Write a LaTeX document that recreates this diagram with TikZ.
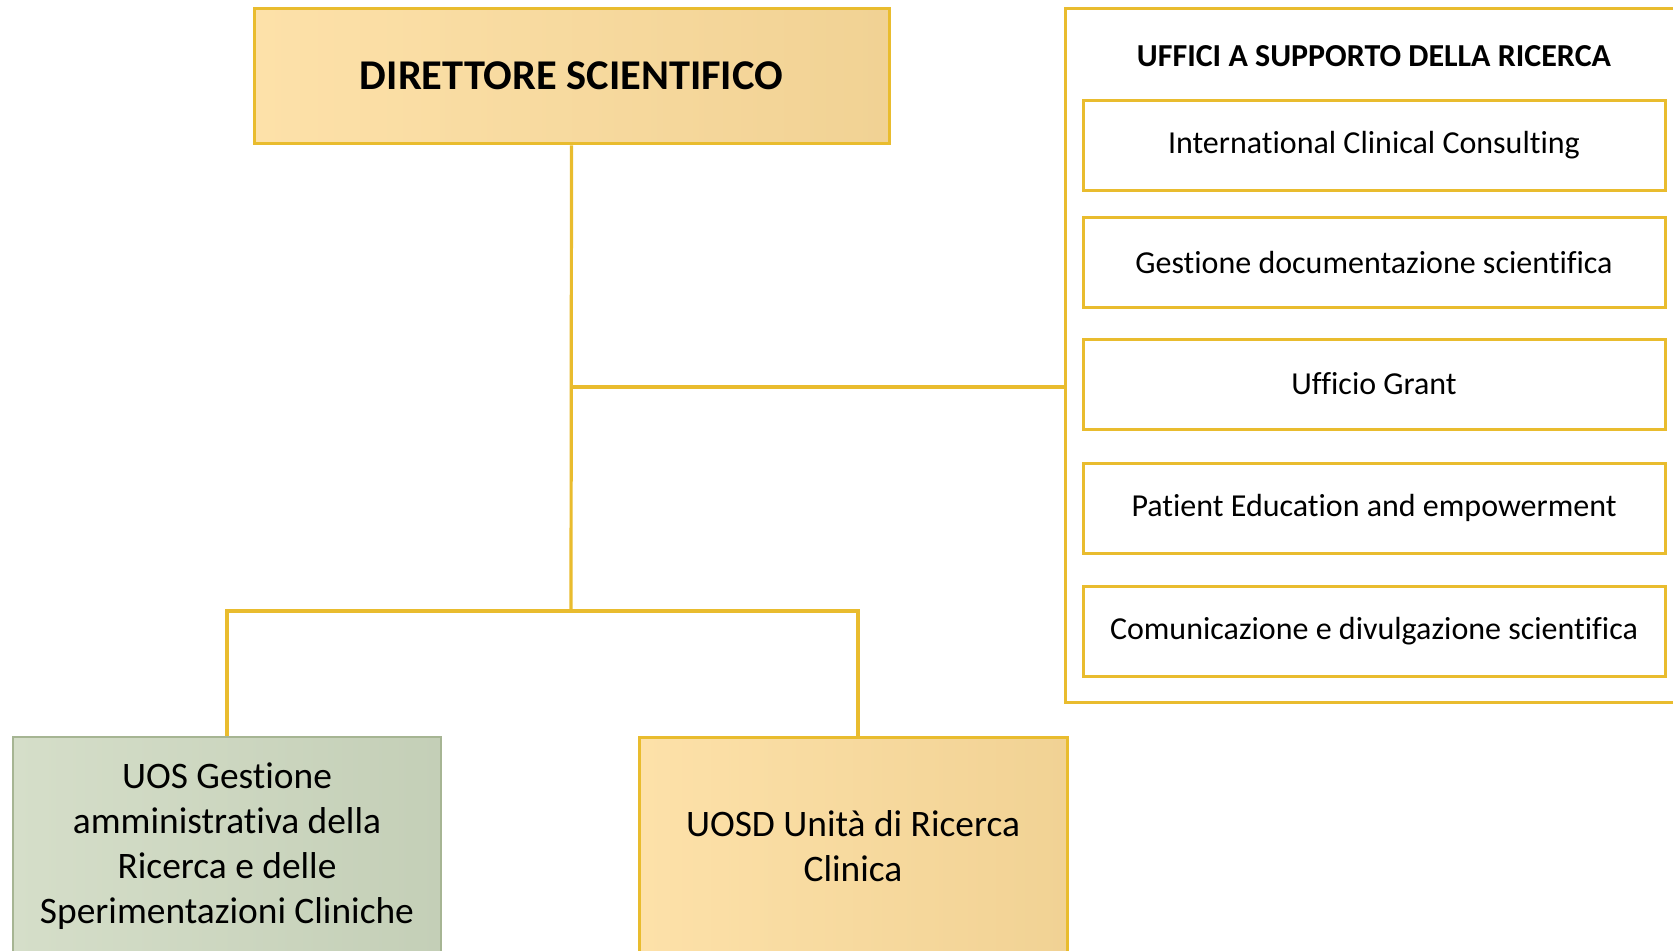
\documentclass[tikz,border=0pt]{standalone}
\usepackage{fontspec}
\setmainfont{Carlito}[Ligatures=NoCommon]
\definecolor{gold}{HTML}{E9BC2E}
\definecolor{peachL}{HTML}{FDE1A9}
\definecolor{peachR}{HTML}{F1D294}
\definecolor{sageL}{HTML}{D5DEC9}
\definecolor{sageR}{HTML}{C4CFB7}
\definecolor{sageB}{HTML}{A6B593}
\begin{document}
\begin{tikzpicture}[x=0.5pt,y=-0.5pt]
\useasboundingbox (0,0) rectangle (1673,950);

% definitions
\tikzstyle{head} = [rectangle, inner sep=0pt, minimum width=317.5pt, minimum height=67.75pt, text centered, draw=gold, line width=1.5pt, left color=peachL, right color=peachR, font=\fontsize{21.2}{25}\selectfont\bfseries]

\tikzstyle{panel} = [rectangle, inner sep=0pt, minimum width=312.5pt, minimum height=346.75pt, draw=gold, line width=1.5pt, fill=white]

\tikzstyle{office} = [rectangle, inner sep=0pt, minimum width=291pt, minimum height=45pt, text centered, draw=gold, line width=1.5pt, fill=white, font=\fontsize{16}{19}\selectfont]

\tikzstyle{unitgreen} = [rectangle, inner sep=0pt, minimum width=214pt, minimum height=109pt, align=center, draw=sageB, line width=1.2pt, left color=sageL, right color=sageR, font=\fontsize{18.7}{22.4}\selectfont]

\tikzstyle{unitgold} = [rectangle, inner sep=0pt, minimum width=214pt, minimum height=109pt, align=center, draw=gold, line width=1.5pt, left color=peachL, right color=peachR, font=\fontsize{18.7}{22.4}\selectfont]

\tikzstyle{link} = [draw=gold, line width=1.6pt]

% the graph
\node (dir) [head] at (571.5,76) {DIRETTORE SCIENTIFICO};

\node (panel) [panel] at (1377.5,355.25) {};
\node (title) [font=\fontsize{16}{19}\selectfont\bfseries] at (1374,56) {UFFICI A SUPPORTO DELLA RICERCA};

\node (u1) [office] at (1374,145) {International Clinical Consulting};
\node (u2) [office] at (1374,262) {Gestione documentazione scientifica};
\node (u3) [office] at (1374,384) {Ufficio Grant};
\node (u4) [office] at (1374,508) {Patient Education and empowerment};
\node (u5) [office] at (1374,631) {Comunicazione e divulgazione scientifica};

\node (uos) [unitgreen] at (227,846) {UOS Gestione\\amministrativa della\\Ricerca e delle\\Sperimentazioni Cliniche};
\node (uosd) [unitgold] at (853,846) {UOSD Unità di Ricerca\\Clinica};

\coordinate (side) at (571,387);
\coordinate (hub) at (571,611);

\draw [link] (dir.south) -- (hub);
\draw [link] (side) -- (side -| panel.west);
\draw [link] (uos.north) |- (hub) -| ([xshift=2.5pt]uosd.north);

\end{tikzpicture}
\end{document}
